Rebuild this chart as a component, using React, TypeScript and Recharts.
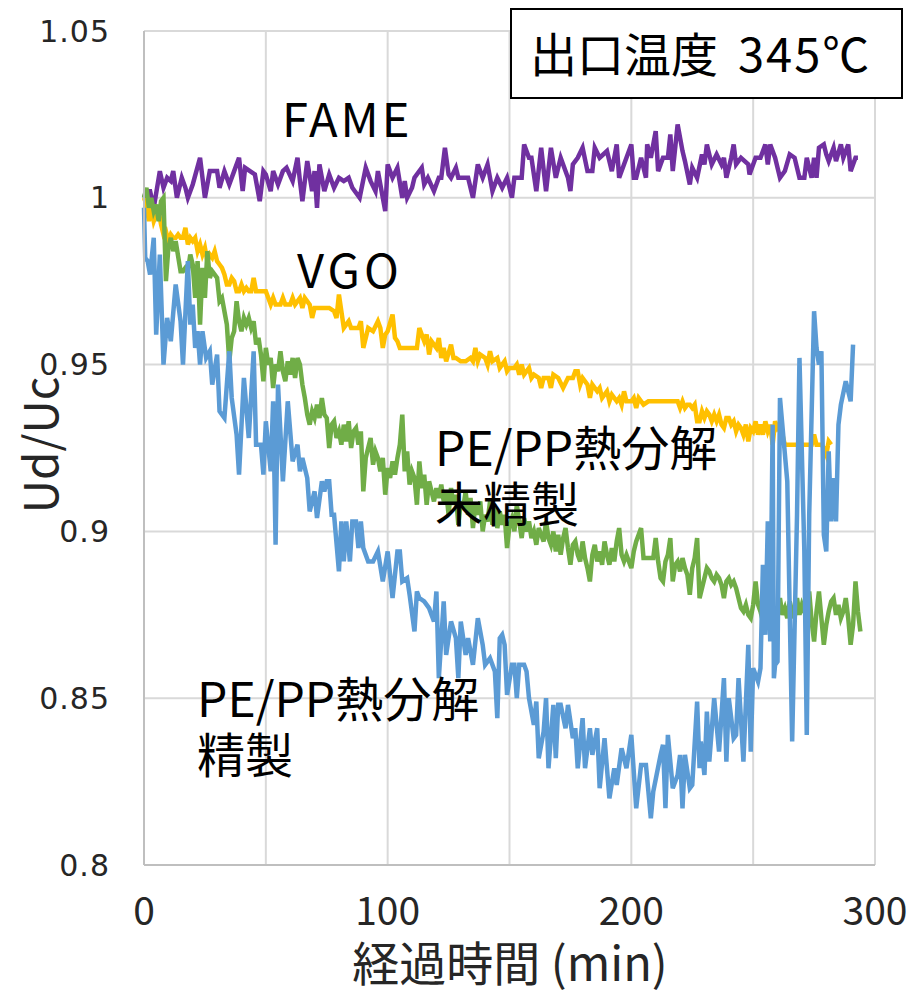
import { LineChart, Line, XAxis, YAxis, CartesianGrid } from 'recharts';

// 出口温度 345℃ — Ud/Uc vs elapsed time
const X_TICKS = [0, 50, 100, 150, 200, 250, 300];
const Y_TICKS = [0.8, 0.85, 0.9, 0.95, 1, 1.05];
const Y_TICK_LABELS = ['0.8', '0.85', '0.9', '0.95', '1', '1.05'];

// [minutes, Ud/Uc]
const FAME: [number, number][] = [
  [0, 1.0], [1, 1.002], [2.5, 1.002], [4, 0.997], [6.5, 1.008], [8, 1.003], [9.5, 1.006], [11, 1.005], [12, 1.008],
  [13.5, 1.0], [15.5, 1.006], [17, 1.003], [18, 1.0], [20, 1.004], [21.5, 1.008], [23, 1.012], [25, 1.0], [27, 1.008],
  [30, 1.008], [31, 1.003], [33, 1.008], [35, 1.004], [37, 1.008], [39, 1.012], [40.5, 1.002], [41.5, 1.009],
  [43.5, 1.008], [45.5, 1.007], [47.5, 0.999], [49, 1.008], [50, 1.007], [52, 1.002], [53, 1.008], [55, 1.004],
  [57, 1.008], [58.5, 1.009], [61, 1.005], [63, 1.012], [64, 1.005], [65, 0.999], [67, 1.011], [69, 1.002], [70, 1.008],
  [71, 0.997], [72, 1.01], [74, 1.002], [76, 1.007], [78, 1.003], [80, 1.006], [82, 1.005], [84, 1.006], [85.5, 1.003],
  [88.5, 1.0], [91, 1.009], [93, 1.005], [95, 1.002], [96, 1.008], [99, 0.996], [100, 1.01], [102, 1.006], [104, 1.009],
  [106, 1.0], [107, 1.005], [108, 1.0], [110, 1.003], [111, 1.006], [114, 1.009], [115, 1.004], [116.5, 1.006],
  [119, 1.002], [121, 1.006], [122, 1.006], [123.5, 1.015], [125, 1.007], [126, 1.006], [128, 1.009], [129, 1.006],
  [131, 1.006], [133, 1.006], [135, 1.0], [137, 1.01], [139, 1.006], [141, 1.01], [143, 1.002], [145, 1.006],
  [147, 1.003], [149, 1.006], [151, 1.0], [152, 1.006], [155, 1.006], [156, 1.016], [158, 1.012], [159, 1.012],
  [161, 1.002], [163, 1.015], [165, 1.002], [167, 1.015], [169, 1.006], [171, 1.012], [174, 1.006], [175, 1.002],
  [176, 1.01], [178, 1.012], [180, 1.015], [182, 1.008], [184, 1.008], [185, 1.015], [187, 1.012], [190, 1.014],
  [192, 1.008], [194, 1.016], [195, 1.006], [198, 1.012], [200, 1.016], [201, 1.006], [202, 1.006], [204, 1.012],
  [206, 1.006], [206.5, 1.016], [208, 1.012], [210, 1.02], [211, 1.008], [213, 1.012], [215, 1.012], [216, 1.019],
  [217, 1.008], [219, 1.022], [221, 1.014], [222, 1.011], [224, 1.004], [225, 1.009], [227, 1.006], [229, 1.013],
  [230, 1.01], [231, 1.016], [233, 1.01], [235, 1.013], [237, 1.01], [238, 1.012], [239, 1.006], [241, 1.012],
  [242, 1.016], [243, 1.01], [245, 1.012], [248, 1.01], [248.5, 1.007], [251, 1.012], [253, 1.012], [255, 1.016],
  [256, 1.01], [257, 1.016], [259, 1.012], [261, 1.006], [263, 1.008], [265, 1.013], [267, 1.012], [269, 1.006],
  [271, 1.006], [272, 1.012], [274, 1.006], [275, 1.012], [276, 1.006], [277, 1.015], [279, 1.016], [280, 1.013],
  [281, 1.011], [283, 1.015], [284, 1.011], [286, 1.016], [287, 1.012], [289, 1.016], [290, 1.008], [292, 1.012],
  [293, 1.012],
];

const VGO: [number, number][] = [
  [0, 1.0], [1, 0.998], [2, 0.993], [3, 0.997], [4, 0.993], [5, 0.995], [6, 0.996], [7, 0.992], [8, 0.989], [9, 0.99],
  [10, 0.987], [11, 0.989], [12, 0.988], [13, 0.988], [14, 0.989], [15, 0.988], [16, 0.988], [17, 0.991], [18, 0.986],
  [19, 0.988], [20, 0.987], [21, 0.988], [22, 0.984], [23, 0.986], [24, 0.983], [25, 0.985], [26, 0.981], [27, 0.983],
  [28, 0.982], [29, 0.984], [30, 0.981], [31, 0.98], [32, 0.979], [33, 0.977], [34, 0.974], [35, 0.974], [36, 0.976],
  [37, 0.975], [38, 0.972], [39, 0.972], [40, 0.974], [41, 0.972], [42, 0.973], [43, 0.972], [44, 0.972], [45, 0.976],
  [46, 0.972], [47, 0.972], [48, 0.972], [50, 0.972], [52, 0.968], [53, 0.97], [54, 0.968], [56, 0.968], [57, 0.97],
  [58, 0.968], [60, 0.968], [61, 0.97], [62, 0.968], [64, 0.97], [65, 0.967], [66, 0.97], [68, 0.968], [69, 0.964],
  [70, 0.967], [72, 0.967], [74, 0.967], [76, 0.967], [78, 0.966], [79, 0.964], [80, 0.971], [81, 0.966], [82, 0.961],
  [84, 0.963], [85, 0.961], [86, 0.961], [88, 0.961], [89, 0.963], [90, 0.955], [92, 0.961], [94, 0.96], [96, 0.963],
  [97, 0.961], [98, 0.955], [99, 0.959], [100, 0.96], [102, 0.965], [103, 0.958], [104, 0.957], [105, 0.955],
  [107, 0.955], [109, 0.955], [111, 0.955], [112, 0.955], [113, 0.961], [115, 0.957], [116, 0.959], [117, 0.953],
  [118, 0.957], [120, 0.955], [121, 0.958], [122, 0.952], [123, 0.955], [124, 0.951], [126, 0.956], [127, 0.952],
  [128, 0.952], [130, 0.951], [132, 0.951], [134, 0.952], [135, 0.951], [136, 0.955], [137, 0.951], [138, 0.953],
  [140, 0.952], [141, 0.95], [142, 0.954], [143, 0.951], [145, 0.952], [146, 0.949], [148, 0.951], [149, 0.948],
  [150, 0.949], [152, 0.949], [153, 0.95], [154, 0.947], [155, 0.95], [156, 0.947], [158, 0.949], [159, 0.946],
  [160, 0.947], [162, 0.946], [163, 0.943], [164, 0.946], [166, 0.946], [167, 0.943], [168, 0.947], [170, 0.946],
  [172, 0.943], [174, 0.946], [176, 0.946], [177, 0.948], [178, 0.948], [179, 0.944], [180, 0.946], [182, 0.944],
  [183, 0.94], [184, 0.944], [186, 0.942], [187, 0.943], [188, 0.94], [190, 0.942], [191, 0.939], [192, 0.941],
  [194, 0.939], [195, 0.94], [196, 0.938], [197, 0.942], [198, 0.939], [200, 0.939], [201, 0.94], [202, 0.937],
  [203, 0.94], [205, 0.938], [207, 0.939], [209, 0.939], [211, 0.939], [213, 0.939], [215, 0.939], [217, 0.939],
  [219, 0.939], [220, 0.937], [221, 0.939], [222, 0.937], [223, 0.938], [224, 0.938], [225, 0.937], [226, 0.938],
  [227, 0.933], [228, 0.933], [229, 0.936], [230, 0.934], [231, 0.936], [232, 0.935], [233, 0.933], [234, 0.935],
  [235, 0.933], [236, 0.935], [237, 0.932], [238, 0.931], [239, 0.934], [240, 0.934], [241, 0.932], [242, 0.933],
  [243, 0.93], [244, 0.932], [245, 0.931], [246, 0.929], [247, 0.932], [248, 0.927], [249, 0.931], [250, 0.93],
  [251, 0.933], [252, 0.929], [253, 0.932], [254, 0.929], [255, 0.933], [256, 0.93], [257, 0.932], [258, 0.926],
  [259, 0.933], [260, 0.931], [261, 0.932], [262, 0.929], [263, 0.926], [264, 0.926], [266, 0.926], [268, 0.926],
  [270, 0.926], [272, 0.926], [274, 0.926], [275, 0.929], [276, 0.926], [278, 0.926], [279, 0.925], [280, 0.923],
  [281, 0.927], [282, 0.926],
];

// PE/PP熱分解 未精製
const CRUDE: [number, number][] = [
  [0, 1.0], [1, 1.003], [2, 0.997], [3, 1.0], [4, 0.996], [5, 0.998], [6, 0.993], [7, 0.999], [8, 1.0], [9, 0.975],
  [10, 0.985], [11, 0.988], [12, 0.984], [13, 0.987], [15, 0.978], [16, 0.978], [17, 0.979], [18, 0.978], [19, 0.983],
  [20, 0.98], [21, 0.97], [22, 0.981], [23, 0.962], [24, 0.979], [25, 0.97], [26, 0.984], [27, 0.976], [28, 0.978],
  [30, 0.976], [31, 0.969], [32, 0.97], [33, 0.966], [34, 0.962], [35, 0.951], [36, 0.958], [37, 0.96], [38, 0.969],
  [39, 0.963], [40, 0.96], [41, 0.964], [42, 0.962], [43, 0.964], [44, 0.961], [45, 0.963], [46, 0.956], [47, 0.958],
  [48, 0.953], [49, 0.945], [50, 0.955], [51, 0.95], [52, 0.952], [53, 0.943], [54, 0.95], [55, 0.948], [56, 0.954],
  [57, 0.948], [58, 0.945], [59, 0.951], [60, 0.947], [61, 0.952], [62, 0.946], [63, 0.952], [64, 0.95], [65, 0.944],
  [66, 0.94], [67, 0.935], [68, 0.932], [69, 0.936], [70, 0.934], [71, 0.938], [72, 0.934], [73, 0.94], [74, 0.935],
  [75, 0.934], [76, 0.925], [77, 0.932], [78, 0.933], [79, 0.928], [80, 0.93], [81, 0.926], [82, 0.932], [83, 0.927],
  [84, 0.933], [85, 0.925], [86, 0.93], [87, 0.931], [88, 0.926], [89, 0.93], [90, 0.912], [91, 0.922], [92, 0.925],
  [93, 0.928], [94, 0.92], [95, 0.924], [96, 0.922], [97, 0.918], [98, 0.922], [99, 0.911], [100, 0.919], [101, 0.916],
  [102, 0.921], [103, 0.917], [104, 0.922], [105, 0.926], [106, 0.935], [107, 0.918], [108, 0.924], [109, 0.914],
  [110, 0.918], [111, 0.916], [112, 0.908], [113, 0.921], [114, 0.913], [115, 0.917], [116, 0.908], [117, 0.915],
  [118, 0.912], [119, 0.909], [120, 0.913], [121, 0.91], [122, 0.914], [123, 0.909], [124, 0.912], [125, 0.905],
  [126, 0.913], [127, 0.908], [128, 0.911], [129, 0.902], [130, 0.909], [131, 0.907], [132, 0.912], [133, 0.905],
  [134, 0.91], [135, 0.901], [136, 0.908], [137, 0.905], [138, 0.909], [139, 0.9], [140, 0.905], [141, 0.903],
  [142, 0.909], [143, 0.902], [144, 0.907], [145, 0.901], [146, 0.906], [147, 0.902], [148, 0.905], [149, 0.895],
  [150, 0.902], [151, 0.904], [152, 0.9], [153, 0.908], [154, 0.903], [155, 0.898], [156, 0.904], [157, 0.9],
  [158, 0.903], [159, 0.898], [160, 0.9], [161, 0.896], [162, 0.901], [163, 0.899], [164, 0.897], [165, 0.903],
  [166, 0.898], [167, 0.896], [168, 0.9], [169, 0.894], [170, 0.899], [171, 0.893], [172, 0.898], [173, 0.901],
  [174, 0.895], [175, 0.89], [176, 0.896], [177, 0.897], [178, 0.893], [179, 0.891], [180, 0.897], [181, 0.892],
  [182, 0.889], [183, 0.885], [184, 0.893], [185, 0.896], [186, 0.891], [187, 0.894], [188, 0.89], [189, 0.897],
  [190, 0.893], [191, 0.89], [192, 0.895], [193, 0.891], [194, 0.897], [195, 0.901], [196, 0.893], [197, 0.891],
  [198, 0.893], [199, 0.891], [200, 0.889], [201, 0.894], [202, 0.897], [203, 0.899], [204, 0.901], [205, 0.892],
  [206, 0.892], [208, 0.892], [209, 0.892], [210, 0.898], [211, 0.891], [212, 0.886], [213, 0.885], [214, 0.891],
  [215, 0.893], [216, 0.898], [217, 0.885], [218, 0.89], [219, 0.891], [220, 0.888], [221, 0.892], [222, 0.889],
  [223, 0.887], [224, 0.881], [225, 0.889], [226, 0.892], [227, 0.898], [228, 0.88], [229, 0.883], [230, 0.886],
  [231, 0.889], [232, 0.888], [233, 0.886], [234, 0.885], [235, 0.887], [236, 0.886], [237, 0.884], [238, 0.88],
  [239, 0.885], [240, 0.886], [241, 0.884], [242, 0.885], [243, 0.883], [244, 0.88], [245, 0.877], [246, 0.876],
  [247, 0.878], [248, 0.875], [249, 0.874], [250, 0.878], [251, 0.885], [252, 0.878], [253, 0.876], [254, 0.873],
  [255, 0.875], [256, 0.872], [257, 0.876], [258, 0.871], [259, 0.874], [260, 0.876], [261, 0.88], [262, 0.875],
  [263, 0.877], [264, 0.874], [265, 0.879], [266, 0.876], [267, 0.874], [268, 0.88], [269, 0.875], [270, 0.878],
  [271, 0.876], [272, 0.874], [273, 0.882], [274, 0.873], [275, 0.867], [276, 0.876], [277, 0.882], [278, 0.874],
  [279, 0.866], [280, 0.872], [281, 0.876], [282, 0.879], [283, 0.88], [284, 0.875], [285, 0.878], [286, 0.874],
  [287, 0.876], [288, 0.88], [289, 0.874], [290, 0.866], [291, 0.872], [292, 0.885], [293, 0.876], [294, 0.87],
];

// PE/PP熱分解 精製
const REFINED: [number, number][] = [
  [0, 0.997], [0.5, 0.982], [1.5, 0.981], [2.5, 0.977], [4, 0.988], [5, 0.959], [6.5, 0.983], [8, 0.95], [9.5, 0.964],
  [11, 0.957], [13, 0.974], [15, 0.963], [16, 0.95], [18, 0.981], [19, 0.962], [20, 0.968], [21, 0.955], [22, 0.96],
  [23, 0.95], [24, 0.96], [25.5, 0.952], [27, 0.954], [28, 0.944], [30, 0.953], [31, 0.936], [33, 0.934], [35, 0.954],
  [36, 0.94], [38, 0.929], [39, 0.917], [41, 0.946], [43, 0.928], [45, 0.954], [46, 0.926], [48, 0.926], [49, 0.917],
  [50, 0.933], [52, 0.918], [53, 0.939], [54, 0.896], [55, 0.944], [57, 0.915], [59, 0.939], [61, 0.921], [63, 0.926],
  [64, 0.918], [65, 0.922], [67, 0.916], [68, 0.906], [70, 0.912], [71, 0.904], [73, 0.915], [74, 0.912], [75, 0.915],
  [76, 0.915], [77, 0.905], [78, 0.905], [80, 0.888], [81, 0.903], [82, 0.891], [83, 0.903], [84.5, 0.891],
  [85.5, 0.903], [87, 0.903], [88, 0.895], [89, 0.903], [90, 0.895], [92, 0.891], [94, 0.891], [96, 0.894],
  [98, 0.885], [100, 0.894], [102, 0.88], [104, 0.894], [105, 0.894], [106, 0.885], [108, 0.886], [109, 0.881],
  [111, 0.87], [112, 0.882], [113, 0.88], [115, 0.879], [117, 0.877], [119, 0.873], [120, 0.882], [121, 0.856],
  [123, 0.879], [124, 0.863], [126, 0.873], [128, 0.868], [129, 0.856], [130, 0.873], [132, 0.863], [133, 0.868],
  [135, 0.86], [137, 0.874], [139, 0.866], [140, 0.86], [142, 0.862], [144, 0.858], [145, 0.844], [146, 0.868],
  [147, 0.869], [148, 0.866], [149, 0.851], [151, 0.86], [152, 0.86], [153, 0.85], [154, 0.86], [156, 0.86],
  [157, 0.858], [158, 0.85], [160, 0.842], [161, 0.849], [162, 0.832], [164, 0.84], [165, 0.85], [166, 0.829],
  [168, 0.848], [169, 0.832], [170, 0.848], [171, 0.848], [173, 0.841], [174, 0.848], [176, 0.838], [177, 0.841],
  [178, 0.829], [180, 0.844], [181, 0.829], [183, 0.841], [184, 0.833], [186, 0.841], [187, 0.823], [189, 0.838],
  [191, 0.82], [193, 0.829], [194, 0.824], [196, 0.835], [198, 0.829], [200, 0.839], [202, 0.817], [204, 0.83],
  [206, 0.83], [208, 0.814], [209, 0.822], [212, 0.833], [213, 0.836], [214, 0.817], [215, 0.839], [217, 0.823],
  [219, 0.827], [220, 0.833], [221, 0.817], [222, 0.833], [224, 0.823], [225, 0.824], [227, 0.849], [228, 0.829],
  [228.5, 0.837], [230, 0.827], [231, 0.846], [232, 0.831], [234, 0.85], [236, 0.834], [238, 0.856], [239, 0.831],
  [240, 0.85], [242, 0.838], [243, 0.839], [244, 0.856], [246, 0.831], [248, 0.866], [249, 0.834], [250, 0.859],
  [252, 0.855], [253, 0.859], [254, 0.89], [255, 0.869], [256, 0.903], [257, 0.867], [258, 0.932], [258.5, 0.856],
  [259, 0.86], [260, 0.861], [261, 0.94], [264, 0.915], [266, 0.837], [268, 0.905], [269, 0.952], [271, 0.894],
  [272, 0.839], [273, 0.905], [275, 0.966], [276, 0.955], [277, 0.95], [278, 0.954], [279, 0.899], [280, 0.894],
  [281, 0.924], [282, 0.903], [283, 0.916], [284, 0.903], [285, 0.932], [286, 0.938], [288, 0.945], [290, 0.939],
  [291, 0.956],
];

const toRows = (pts: [number, number][]) => pts.map(([t, v]) => ({ t, v }));

const JP = '"Noto Sans CJK JP", "Noto Sans", sans-serif';
const TXT = '#262626';
const LINE_W = 4.5;

export default function App() {
  return (
    <div style={{ position: 'absolute', left: 0, top: 0, width: 913, height: 997, background: '#fff' }}>
      <LineChart width={913} height={997} margin={{ top: 31, right: 38, left: 34, bottom: 12 }}>
        <CartesianGrid stroke="#D9D9D9" strokeWidth={2} />
        <XAxis
          type="number"
          dataKey="t"
          domain={[0, 300]}
          ticks={X_TICKS}
          tickFormatter={(v: number) => (v % 100 === 0 ? String(v) : '')}
          axisLine={{ stroke: '#BFBFBF', strokeWidth: 2 }}
          tickLine={false}
          tickSize={0}
          tickMargin={32}
          height={120}
          tick={{ fontFamily: JP, fontSize: 39, fill: TXT }}
        />
        <YAxis
          type="number"
          domain={[0.8, 1.05]}
          ticks={Y_TICKS}
          tickFormatter={(v: number) => Y_TICK_LABELS[Y_TICKS.indexOf(v)] ?? String(v)}
          axisLine={{ stroke: '#BFBFBF', strokeWidth: 2 }}
          tickLine={false}
          tickSize={0}
          tickMargin={34}
          width={110}
          allowDataOverflow
          tick={{ fontFamily: 'DejaVu Sans', fontSize: 30, fill: TXT, letterSpacing: 1 }}
        />
        <Line data={toRows(FAME)} dataKey="v" stroke="#7030A0" strokeWidth={LINE_W} dot={false} isAnimationActive={false} />
        <Line data={toRows(VGO)} dataKey="v" stroke="#FFC000" strokeWidth={LINE_W} dot={false} isAnimationActive={false} />
        <Line data={toRows(CRUDE)} dataKey="v" stroke="#70AD47" strokeWidth={LINE_W} dot={false} isAnimationActive={false} />
        <Line data={toRows(REFINED)} dataKey="v" stroke="#5B9BD5" strokeWidth={LINE_W} dot={false} isAnimationActive={false} />
      </LineChart>
      <svg
        width={913}
        height={997}
        style={{ position: 'absolute', left: 0, top: 0, pointerEvents: 'none' }}
        fontFamily={JP}
        fill="#000"
      >
        <rect x={511} y={9} width={391} height={89} fill="#fff" stroke="#000" strokeWidth={2} />
        <text x={530} y={72} fontSize={47}>
          出口温度<tspan x={738} letterSpacing={2}>345℃</tspan>
        </text>
        <text x={282} y={137} fontSize={47} letterSpacing={3}>FAME</text>
        <text x={297} y={288} fontSize={47} letterSpacing={4}>VGO</text>
        <text x={435} y={466} fontSize={48}>
          PE/PP熱分解<tspan x={435} dy={56}>未精製</tspan>
        </text>
        <text x={197} y={717} fontSize={48}>
          PE/PP熱分解<tspan x={197} dy={56}>精製</tspan>
        </text>
        <text x={510} y={981} fontSize={47} textAnchor="middle" fill={TXT}>経過時間 (min)</text>
        <text transform="translate(58,445) rotate(-90)" fontSize={46} textAnchor="middle" fill={TXT}>Ud/Uc</text>
      </svg>
    </div>
  );
}
